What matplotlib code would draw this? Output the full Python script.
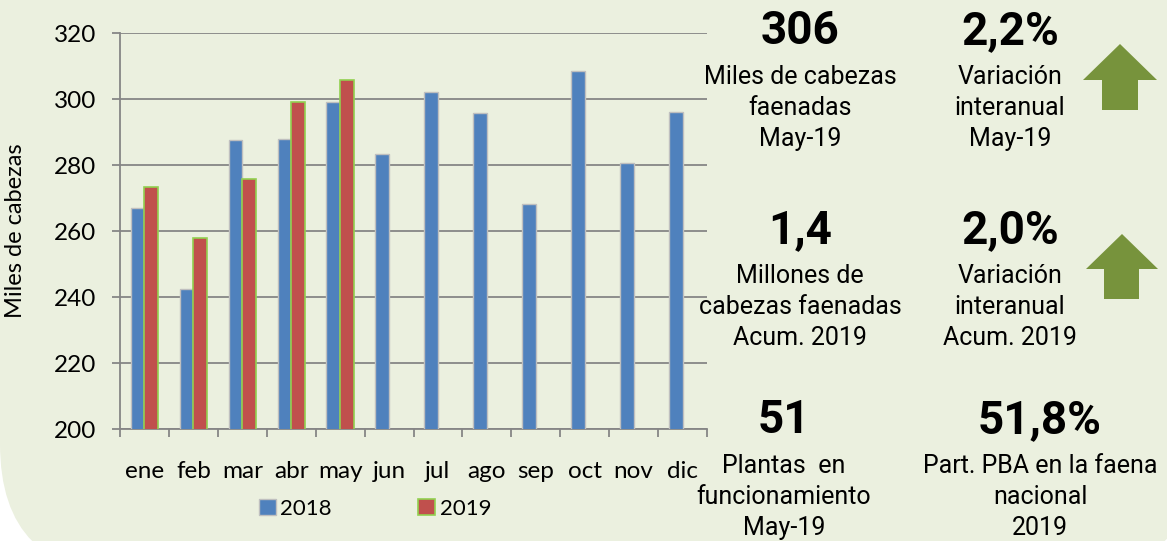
import matplotlib.pyplot as plt
import numpy as np
from matplotlib.patches import FancyBboxPatch, Polygon

months = ["ene", "feb", "mar", "abr", "may", "jun", "jul", "ago", "sep", "oct", "nov", "dic"]
v2018 = [267, 242.5, 287.5, 288, 299, 283.3, 302.2, 295.8, 268.2, 308.4, 280.7, 296]
v2019 = [273.3, 258, 275.8, 299.2, 305.8]
series_names = ["2018", "2019"]

# right-hand summary panel: (big number, lines below)
kpis = [
    ("306", ["Miles de cabezas", "faenadas", "May-19"]),
    ("2,2%", ["Variación", "interanual", "May-19"]),
    ("1,4", ["Millones de", "cabezas faenadas", "Acum. 2019"]),
    ("2,0%", ["Variación", "interanual", "Acum. 2019"]),
    ("51", ["Plantas  en", "funcionamiento", "May-19"]),
    ("51,8%", ["Part. PBA en la faena", "nacional", "2019"]),
]

W, H = 1167, 541
bg = "#EBF0DF"
fig = plt.figure(figsize=(W / 100, H / 100), dpi=100, facecolor="white")

# rounded green panel behind everything (pixel coords)
panel = FancyBboxPatch((0, -33), 1197, 800, boxstyle="round,pad=0,rounding_size=130",
                       transform=None, facecolor=bg, edgecolor="none", zorder=-5)
fig.patches.append(panel)

ax = fig.add_axes([120 / W, 1 - 429 / H, 587 / W, 396 / H])
ax.set_facecolor("none")
ax.set_zorder(2)

x = np.arange(len(months))
bw = 0.28
ax.bar(x - bw / 2, v2018, bw, color="#4F81BD", edgecolor="#BFBFBF", linewidth=1.0,
       label=series_names[0], zorder=3)
ax.bar(x[:len(v2019)] + bw / 2, v2019, bw, color="#C0504D", edgecolor="#92D050",
       linewidth=1.2, label=series_names[1], zorder=3)

ax.set_ylim(200, 320)
ax.set_xlim(-0.5, len(months) - 0.5)
ax.set_yticks(range(200, 321, 20))
ax.grid(axis="y", color="#868686", linewidth=1.3, zorder=0)
for s in ["top", "right"]:
    ax.spines[s].set_visible(False)
for s in ["left", "bottom"]:
    ax.spines[s].set_color("#868686")
    ax.spines[s].set_linewidth(1.3)

lato = "Lato"
ax.set_xticks(x)
ax.set_xticklabels(months, fontfamily=lato, fontsize=17.5)
ax.set_xticks(np.arange(-0.5, len(months), 1), minor=True)
ax.tick_params(axis="x", which="major", length=0, pad=23)
ax.tick_params(axis="x", which="minor", length=6, width=1.3, color="#868686")
ax.tick_params(axis="y", length=6, width=1.3, color="#868686", pad=11, labelsize=17.5)
for t in ax.get_yticklabels():
    t.set_fontfamily(lato)

ax.set_ylabel("Miles de cabezas", fontfamily=lato, fontsize=17)
ax.yaxis.set_label_coords(-0.16, 0.5)

leg = ax.legend(loc="center", bbox_to_anchor=(375 / W, 1 - 509 / H),
                bbox_transform=fig.transFigure, ncol=2, frameon=False,
                handlelength=0.75, handleheight=0.75, handletextpad=0.2,
                columnspacing=3.9, prop={"family": lato, "size": 16})

# summary texts
col_x = [800, 1010, 800, 1010, 784, 1040]
big_y = [44, 44, 243, 243, 433, 433]
for (big, lines), cx, by in zip(kpis, col_x, big_y):
    fig.text(cx / W, 1 - by / H, big, ha="center", va="baseline",
             fontfamily="Roboto", fontweight="bold", fontsize=33)
    for i, ln in enumerate(lines):
        ly = by + 40 + 31 * i
        fig.text(cx / W, 1 - ly / H, ln, ha="center", va="baseline",
                 fontfamily="Roboto", fontsize=18)

# up arrows
def up_arrow(tip_x, tip_y, base_y, bot_y, hl, hr, sl, sr):
    pts = [(tip_x, tip_y), (hr, base_y), (sr, base_y), (sr, bot_y),
           (sl, bot_y), (sl, base_y), (hl, base_y)]
    pts = [(px / W, 1 - py / H) for px, py in pts]
    fig.patches.append(Polygon(pts, closed=True, transform=fig.transFigure,
                               facecolor="#77933C", edgecolor="none"))

up_arrow(1120, 44, 80, 110, 1083, 1157, 1102, 1138)
up_arrow(1122, 234, 269, 299, 1086, 1158, 1104, 1139)

fig.savefig("out.png", dpi=100, facecolor="white")
